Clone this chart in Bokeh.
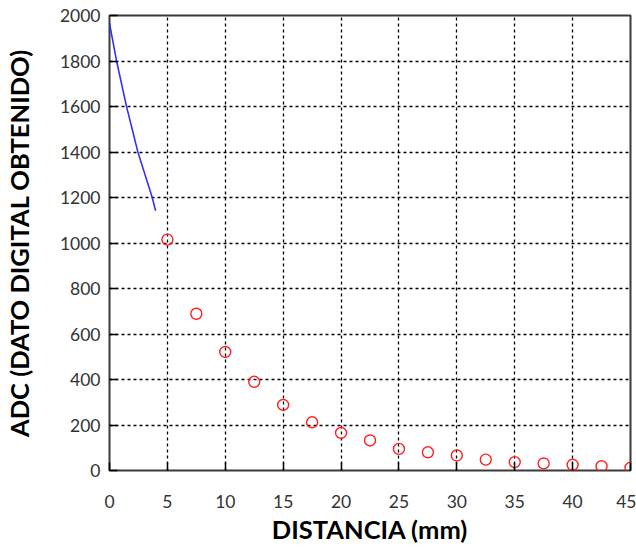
from bokeh.plotting import figure
from bokeh.models import Range1d, FixedTicker
from bokeh.embed import file_html
from bokeh.resources import INLINE

# Measured points (red circles)
distancia = [5, 7.5, 10, 12.5, 15, 17.5, 20, 22.5, 25, 27.5, 30, 32.5, 35, 37.5, 40, 42.5, 45]
adc = [1015, 689, 521, 390, 288, 212, 165, 132, 95, 80, 66, 48, 37, 31, 25, 19, 12]

# Blue curve segment
curva_x = [0, 0.61, 1.47, 2.45, 3.69, 3.98]
curva_y = [1966, 1800, 1600, 1400, 1200, 1142]

x_ticks = [0, 5, 10, 15, 20, 25, 30, 35, 40, 45]
y_ticks = [0, 200, 400, 600, 800, 1000, 1200, 1400, 1600, 1800, 2000]

FONT = "Lato"

p = figure(width=636, height=550, output_backend="svg", toolbar_location=None,
           x_range=Range1d(0, 45), y_range=Range1d(0, 2000),
           min_border_left=108, min_border_right=6, min_border_top=15, min_border_bottom=80)

p.background_fill_color = "white"
p.border_fill_color = "white"
p.outline_line_color = "#3a3a3a"
p.outline_line_width = 2

for ax in (p.xaxis, p.yaxis):
    ax.axis_line_color = None
    ax.major_tick_in = 8
    ax.major_tick_out = 0
    ax.major_tick_line_color = "black"
    ax.major_tick_line_width = 1.5
    ax.minor_tick_line_color = None
    ax.major_label_text_font = FONT
    ax.major_label_text_font_size = "17.5px"
    ax.major_label_text_color = "#333333"
    ax.axis_label_text_font = FONT
    ax.axis_label_text_font_style = "bold"
    ax.axis_label_text_font_size = "25.5px"
    ax.axis_label_text_color = "black"

p.xaxis.ticker = FixedTicker(ticks=x_ticks)
p.yaxis.ticker = FixedTicker(ticks=y_ticks)
p.xaxis.axis_label = "DISTANCIA (mm)"
p.yaxis.axis_label = "ADC (DATO DIGITAL OBTENIDO)"
p.xaxis.major_label_standoff = 24
p.xaxis.axis_label_standoff = 3
p.yaxis.major_label_standoff = 9
p.yaxis.axis_label_standoff = 23

for g in (p.xgrid, p.ygrid):
    g.grid_line_color = "black"
    g.grid_line_dash = "3 3"
    g.grid_line_width = 1.3
p.xgrid.ticker = FixedTicker(ticks=x_ticks)
p.ygrid.ticker = FixedTicker(ticks=y_ticks)

p.line(curva_x, curva_y, line_color="#2b2bff", line_width=1.5)
p.scatter(distancia, adc, marker="circle", size=11, fill_color=None,
          line_color="#ff2020", line_width=1.4)

open("out.html", "w").write(file_html(p, INLINE))
